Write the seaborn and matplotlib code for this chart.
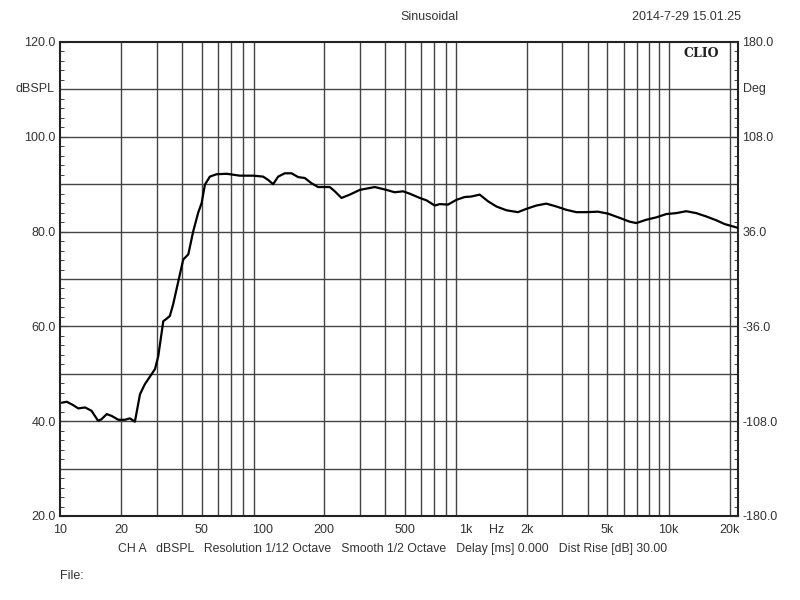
import numpy as np
import pandas as pd
import matplotlib
matplotlib.use('Agg')
import matplotlib.pyplot as plt
import seaborn as sns

# frequency response (Hz, dBSPL)
freq = [10.2, 10.8, 11.6, 12.3, 13.3, 14.3, 15.4, 16.0, 17.0, 18.0, 19.4, 20.9,
        22.1, 23.4, 24.8, 26.2, 29.4, 30.5, 32.3, 33.5, 34.8, 36.1, 38.3, 40.5,
        42.9, 45.4, 48.0, 49.9, 51.8, 54.8, 59.1, 66.3, 77.0, 89.6, 100.3, 106.2,
        112.4, 119, 128.3, 138.5, 149.3, 161, 173.8, 187.3, 213.8, 226.3, 244.2,
        268.3, 300.5, 356.2, 406.8, 446.9, 491.1, 530, 593.4, 640.4, 703.7, 744.6,
        818.2, 900, 989, 1067, 1172, 1288, 1417, 1587, 1810, 1991, 2230, 2497,
        2798, 3134, 3511, 3932, 4484, 5023, 5736, 6426, 6934, 7766, 8698, 9743,
        10912, 12223, 13690, 15334, 17179, 18876, 20737, 21900]
spl = [43.9, 44.1, 43.4, 42.7, 42.9, 42.2, 40.1, 40.4, 41.5, 41.1, 40.3, 40.3,
       40.6, 39.9, 45.7, 47.8, 51.0, 53.7, 61.1, 61.6, 62.2, 64.6, 69.5, 74.1,
       75.2, 80.1, 84.0, 86.0, 89.9, 91.6, 92.1, 92.2, 91.8, 91.8, 91.6, 90.9,
       90.0, 91.6, 92.3, 92.3, 91.5, 91.3, 90.2, 89.4, 89.4, 88.5, 87.1, 87.8,
       88.8, 89.4, 88.8, 88.3, 88.5, 88.0, 87.1, 86.6, 85.5, 85.8, 85.7, 86.7,
       87.3, 87.4, 87.8, 86.4, 85.3, 84.5, 84.1, 84.8, 85.5, 85.9, 85.3, 84.6,
       84.1, 84.1, 84.2, 83.8, 82.9, 82.1, 81.8, 82.5, 83.0, 83.7, 83.9, 84.3,
       83.9, 83.2, 82.4, 81.6, 81.1, 80.8]

x_ticks = [10, 20, 50, 100, 200, 500, 1000, 2000, 5000, 10000, 20000]
x_labels = ['10', '20', '50', '100', '200', '500', '1k', '2k', '5k', '10k', '20k']
db_ticks = [20, 40, 60, 80, 100, 120]
deg_ticks = [-180, -108, -36, 36, 108, 180]

df = pd.DataFrame({'freq': freq, 'spl': spl})

sns.set_style('white')
plt.rcParams['font.family'] = ['Liberation Sans', 'DejaVu Sans']
txt = '#333333'
grid_c = '#444444'

fig = plt.figure(figsize=(8, 6), dpi=100)
ax = fig.add_axes([0.075, 0.14, 0.8475, 0.79])

# grid
for g in [d * m for m in (10, 100, 1000) for d in range(2, 10)] + [10000, 20000]:
    ax.axvline(g, color=grid_c, lw=1.0, zorder=1)
for g in range(30, 120, 10):
    ax.axhline(g, color=grid_c, lw=1.0, zorder=1)

sns.lineplot(data=df, x='freq', y='spl', ax=ax, color='black', lw=1.6, zorder=3)

ax.set_xscale('log')
ax.set_xlim(10, 22000)
ax.set_ylim(20, 120)
ax.set_xticks(x_ticks)
ax.set_xticklabels(x_labels)
ax.xaxis.set_minor_locator(matplotlib.ticker.NullLocator())
ax.set_yticks(db_ticks)
ax.set_yticklabels([f'{v:.1f}' for v in db_ticks])
ax.yaxis.set_minor_locator(matplotlib.ticker.MultipleLocator(2))
ax.tick_params(axis='x', length=0, pad=6, labelsize=9, colors=txt)
ax.tick_params(axis='y', which='major', direction='in', length=5, pad=3,
               labelsize=9, colors=txt)
ax.tick_params(axis='y', which='minor', direction='in', length=3, left=True)
ax.set_xlabel('')
ax.set_ylabel('')
for s in ax.spines.values():
    s.set_color('#222222')
    s.set_linewidth(1.5)

ax2 = ax.twinx()
ax2.set_ylim(-180, 180)
ax2.set_yticks(deg_ticks)
ax2.set_yticklabels([f'{v:.1f}' for v in deg_ticks])
ax2.yaxis.set_minor_locator(matplotlib.ticker.MultipleLocator(7.2))
ax2.tick_params(axis='y', which='major', direction='in', length=5, pad=3,
                labelsize=9, colors=txt)
ax2.tick_params(axis='y', which='minor', direction='in', length=3, right=True)
for s in ax2.spines.values():
    s.set_visible(False)

# unit labels at the 110 dB row
ax.text(-0.008, 0.9, 'dBSPL', transform=ax.transAxes, ha='right', va='center',
        fontsize=9, color=txt)
ax.text(1.008, 0.9, 'Deg', transform=ax.transAxes, ha='left', va='center',
        fontsize=9, color=txt)
ax.text(1422, -0.016, 'Hz', transform=ax.get_xaxis_transform(), ha='center',
        va='top', fontsize=9, color=txt)
ax.text(0.972, 0.99, 'CLIO', transform=ax.transAxes, ha='right', va='top',
        fontsize=9, fontweight='bold', family='DejaVu Serif', color='#222222')

fig.text(0.537, 0.972, 'Sinusoidal', ha='center', va='center', fontsize=9, color=txt)
fig.text(0.858, 0.972, '2014-7-29 15.01.25', ha='center', va='center',
         fontsize=9, color=txt)
fig.text(0.147, 0.085,
         'CH A   dBSPL   Resolution 1/12 Octave   Smooth 1/2 Octave   '
         'Delay [ms] 0.000   Dist Rise [dB] 30.00',
         ha='left', va='center', fontsize=8.8, color=txt)
fig.text(0.075, 0.04, 'File:', ha='left', va='center', fontsize=9, color=txt)

fig.savefig('out.png', dpi=100)
